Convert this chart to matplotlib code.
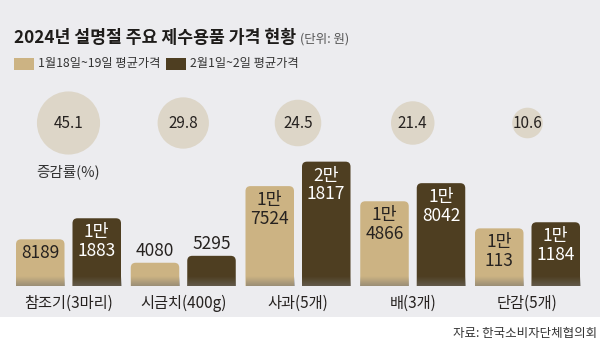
import numpy as np
import matplotlib
matplotlib.use("Agg")
import matplotlib.pyplot as plt
from matplotlib.patches import FancyBboxPatch, Rectangle

plt.rcParams['font.family'] = ['Noto Sans CJK KR', 'DejaVu Sans']

# ---- data ----
categories = ["참조기(3마리)", "시금치(400g)", "사과(5개)", "배(3개)", "단감(5개)"]
price_jan = [8189, 4080, 17524, 14866, 10113]
price_feb = [11883, 5295, 21817, 18042, 11184]
change_pct = [45.1, 29.8, 24.5, 21.4, 10.6]
series_names = ["1월18일~19일 평균가격", "2월1일~2일 평균가격"]
title = "2024년 설명절 주요 제수용품 가격 현황"
unit = "(단위: 원)"
change_label = "증감률(%)"
source = "자료: 한국소비자단체협의회"

# ---- style ----
W, H = 600, 360
BG = "#ececef"
C_LIGHT = "#ccb383"
C_DARK = "#4e3e21"
C_CIRCLE = "#ddd6c8"
C_TEXT = "#262220"

fig = plt.figure(figsize=(W / 100, H / 100), dpi=100, facecolor="white")
fig.patches.append(Rectangle((0, 1 - 317 / H), 1, 317 / H, transform=fig.transFigure,
                             facecolor=BG, edgecolor="none", zorder=-10))

def fy(py):
    return 1 - py / H

# bar axes: baseline at 286 px, 0.0057 px per won
px_per_won = 0.0057
ytop = 25000
base_px = 286
ax_h_px = ytop * px_per_won
ax = fig.add_axes([0, fy(base_px), 1, ax_h_px / H])
ax.set_facecolor("none")
for s in ax.spines.values():
    s.set_visible(False)
spacing_px = 114.75
x0_px = 68.5
xl = (-x0_px / spacing_px, (W - x0_px) / spacing_px)
ax.set_xlim(*xl)
ax.set_ylim(0, ytop)

bw = 48.5 / spacing_px
off = 28.25 / spacing_px
r_px = 5
rx = r_px / spacing_px
ry = r_px / px_per_won
aspect = ry / rx

def rbar(xc, val, color):
    p = FancyBboxPatch((xc - bw / 2, -ry), bw, val + ry,
                       boxstyle=f"round,pad=0,rounding_size={rx}",
                       mutation_aspect=aspect, facecolor=color, edgecolor="none", zorder=2)
    ax.add_patch(p)
    # base shading
    grad = np.zeros((20, 1, 4))
    grad[..., :3] = np.array([0.45, 0.44, 0.42])
    grad[:, 0, 3] = np.linspace(0.0, 0.55, 20)
    ax.imshow(grad, extent=(xc - bw / 2, xc + bw / 2, 0, 1600), origin="upper",
              aspect="auto", zorder=3, interpolation="bilinear")

def fmt(v):
    if v >= 10000:
        return f"{v // 10000}만\n{v % 10000}"
    return f"{v}"

for i, (a, b) in enumerate(zip(price_jan, price_feb)):
    for val, xc, col, tcol in [(a, i - off, C_LIGHT, C_TEXT), (b, i + off, C_DARK, "white")]:
        rbar(xc, val, col)
        if val >= 6000:
            ax.annotate(fmt(val), xy=(xc, val), xytext=(0, -3.5), textcoords="offset points",
                        ha="center", va="top", fontsize=12.5, color=tcol,
                        linespacing=1.05, zorder=5)
        else:
            ax.annotate(fmt(val), xy=(xc, val), xytext=(0, 2), textcoords="offset points",
                        ha="center", va="bottom", fontsize=12.5, color=C_TEXT, zorder=5)

ax.set_xlim(*xl)
ax.set_ylim(0, ytop)
ax.set_xticks(range(len(categories)))
ax.set_xticklabels(categories, fontsize=11, color=C_TEXT)
ax.tick_params(axis="x", length=0, pad=6)
ax.set_yticks([])

# circles axes
ax2 = fig.add_axes([0, fy(160), 1, 80 / H])
ax2.set_facecolor("none")
ax2.axis("off")
ax2.set_xlim(*xl)
ax2.set_ylim(0, 1)
yc = 1 - (123 - 80) / 80
xs = np.arange(len(change_pct))
ax2.scatter(xs, [yc] * len(xs), s=[45.8 * v for v in change_pct], color=C_CIRCLE,
            edgecolor="none", zorder=1)
for x, v in zip(xs, change_pct):
    ax2.text(x, yc, f"{v}", ha="center", va="center", fontsize=11, color=C_TEXT, zorder=2)
fig.text(x0_px / W, fy(172), change_label, ha="center", va="center", fontsize=10.5, color="#333333")

# title
fig.text(14 / W, fy(38), title, ha="left", va="center", fontsize=12.4, fontweight="bold",
         color="#1e1c1a")
fig.text(300 / W, fy(39), unit, ha="left", va="center", fontsize=9, color="#555555")

# legend
for (lx, name, col) in [(14, series_names[0], C_LIGHT), (166, series_names[1], C_DARK)]:
    fig.patches.append(Rectangle((lx / W, fy(70)), 20 / W, 12 / H, transform=fig.transFigure,
                                 facecolor=col, edgecolor="none"))
    fig.text((lx + 24) / W, fy(64), name, ha="left", va="center", fontsize=8.8, color="#333333")

# source
fig.text(597 / W, fy(333), source, ha="right", va="center", fontsize=9, color="#333333")

fig.savefig("out.png", dpi=100, facecolor="white")
